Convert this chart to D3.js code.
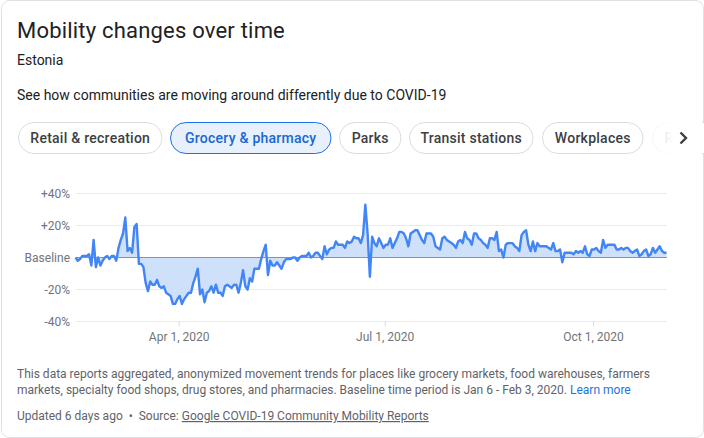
<!DOCTYPE html>
<html>
<head>
<meta charset="utf-8">
<script src="https://d3js.org/d3.v7.min.js"></script>
<style>
  html, body { margin: 0; padding: 0; background: #fff; }
  svg { display: block; font-family: Roboto, sans-serif; }
  .grid line { stroke: #ebebeb; stroke-width: 1; }
  .axis text { font-size: 12px; fill: #70757a; font-family: Roboto, sans-serif; }
  .axis path { display: none; }
</style>
</head>
<body>
<div id="chart"></div>
<script>
// the last chip is scrolled out of view in the card, only its first letter shows
var categories = ['Retail & recreation', 'Grocery & pharmacy', 'Parks', 'Transit stations', 'Workplaces', 'R'];
var selectedCategory = 'Grocery & pharmacy';
var yTicks = [40, 20, 0, -20, -40];
var xTicks = ['2020-04-01', '2020-07-01', '2020-10-01'];
var firstDay = '2020-02-15';
var lastDay = '2020-11-02';

// daily change from baseline in %
var values = [
  0, -2, -1, 1, 1, 1, 2, -5, 11, -6,
  0, -5, -2, 0, 1, -1, 1, 1, -2, 6,
  11, 15, 25, 4, 6, 3, 19, 21, -4, -4,
  -6, -16, -21, -15, -17, -17, -14, -18, -19, -18,
  -22, -23, -24, -29, -29, -26, -24, -29, -26, -24,
  -22, -22, -16, -12, -7, -23, -20, -28, -22, -21,
  -18, -22, -17, -22, -22, -24, -18, -17, -18, -19,
  -17, -17, -22, -16, -8, -18, -20, -13, -15, -7,
  -7, -7, -1, 4, 8, -11, -2, -5, -5, -3,
  -5, -7, -3, -1, -1, -1, 0, 0, -2, 0,
  1, 1, 1, 3, 0, 1, 3, 3, 1, -1,
  7, 2, 5, 6, 6, 10, 8, 8, 8, 6,
  10, 9, 10, 13, 12, 12, 9, 14, 33, 15,
  -12, 13, 9, 7, 12, 9, 6, 8, 8, 12,
  6, 9, 12, 16, 16, 15, 12, 7, 15, 16,
  17, 17, 14, 11, 9, 15, 15, 15, 13, 7,
  6, 5, 12, 13, 11, 10, 9, 8, 6, 10,
  11, 9, 16, 12, 11, 8, 15, 15, 12, 11,
  9, 8, 6, 12, 12, 11, 16, 4, 5, 0,
  8, 9, 9, 9, 7, 6, 4, 14, 16, 17,
  8, 4, 10, 4, 9, 7, 7, 7, 7, 6,
  5, 9, 4, 4, 5, -3, 3, 3, 3, 3,
  2, 4, 3, 4, 3, 7, 2, 1, 5, 5,
  6, 4, 3, 11, 6, 8, 8, 8, 8, 5,
  5, 6, 5, 6, 6, 4, 3, 4, 5, 1,
  2, 4, 5, 1, 2, 6, 3, 5, 7, 4,
  3, 3
];

var width = 704, height = 438;
var parseDay = d3.utcParse('%Y-%m-%d');
var start = parseDay(firstDay);
var days = values.map(function (v, i) { return d3.utcDay.offset(start, i); });

var x = d3.scaleUtc().domain([start, parseDay(lastDay)]).range([75.5, 666.5]);
var y = d3.scaleLinear().domain([-40, 40]).range([321.5, 193.5]);

var svg = d3.select('#chart').append('svg')
  .attr('width', width)
  .attr('height', height);

// card outline
svg.append('rect')
  .attr('x', 1.5).attr('y', 0.5)
  .attr('width', 702).attr('height', 437)
  .attr('rx', 8)
  .attr('fill', '#fff')
  .attr('stroke', '#e0e1e3');

svg.append('text').attr('x', 17).attr('y', 38)
  .attr('font-size', 22).attr('letter-spacing', 0.2).attr('fill', '#202124')
  .text('Mobility changes over time');
svg.append('text').attr('x', 17).attr('y', 65)
  .attr('font-size', 14).attr('fill', '#202124')
  .text('Estonia');
svg.append('text').attr('x', 17).attr('y', 100)
  .attr('font-size', 14).attr('fill', '#202124')
  .text('See how communities are moving around differently due to COVID-19');

// chips
var chipEdges = [[18.5, 162], [170.5, 331], [339.5, 401], [409.5, 533], [542.5, 643], [652.5, 720]];
var chips = svg.selectAll('.chip').data(categories).enter().append('g').attr('class', 'chip');
chips.append('rect')
  .attr('x', function (d, i) { return chipEdges[i][0]; })
  .attr('y', 122.5)
  .attr('width', function (d, i) { return chipEdges[i][1] - chipEdges[i][0]; })
  .attr('height', 31)
  .attr('rx', 15.5)
  .attr('fill', function (d) { return d === selectedCategory ? '#e8f0fe' : '#fff'; })
  .attr('stroke', function (d) { return d === selectedCategory ? '#1a73e8' : '#dadce0'; });
chips.append('text')
  .attr('x', function (d, i) { return i < 5 ? (chipEdges[i][0] + chipEdges[i][1]) / 2 : chipEdges[i][0] + 12; })
  .attr('y', 143)
  .attr('text-anchor', function (d, i) { return i < 5 ? 'middle' : 'start'; })
  .attr('font-size', 14).attr('font-weight', 500).attr('letter-spacing', 0.25)
  .attr('fill', function (d) { return d === selectedCategory ? '#1967d2' : '#3c4043'; })
  .text(function (d) { return d; });

// fade over the clipped chip, then the arrow
var defs = svg.append('defs');
var fade = defs.append('linearGradient').attr('id', 'fade');
fade.append('stop').attr('offset', '0').attr('stop-color', '#fff').attr('stop-opacity', 0.7);
fade.append('stop').attr('offset', '0.45').attr('stop-color', '#fff').attr('stop-opacity', 1);
svg.append('rect').attr('x', 650).attr('y', 118).attr('width', 52).attr('height', 40).attr('fill', 'url(#fade)');
svg.append('path')
  .attr('d', 'M680.5 132.5 L686 138 L680.5 143.5')
  .attr('fill', 'none').attr('stroke', '#3c4043').attr('stroke-width', 2.4);

// grid
var grid = svg.append('g').attr('class', 'grid');
grid.selectAll('line').data(yTicks).enter().append('line')
  .attr('x1', 76).attr('x2', 667)
  .attr('y1', function (d) { return y(d); })
  .attr('y2', function (d) { return y(d); });

// area and line
var area = d3.area()
  .x(function (d, i) { return x(days[i]); })
  .y0(y(0))
  .y1(function (d) { return y(d); });
var line = d3.line()
  .x(function (d, i) { return x(days[i]); })
  .y(function (d) { return y(d); });

svg.append('path').datum(values)
  .attr('d', area)
  .attr('fill', '#cfe0fb');

svg.append('line')
  .attr('x1', 76).attr('x2', 667)
  .attr('y1', y(0)).attr('y2', y(0))
  .attr('stroke', '#8e9297').attr('stroke-width', 1.2);

svg.append('path').datum(values)
  .attr('d', line)
  .attr('fill', 'none')
  .attr('stroke', '#4285f4')
  .attr('stroke-width', 2.4)
  .attr('stroke-linejoin', 'round');

// axes
var yAxis = d3.axisLeft(y)
  .tickValues(yTicks)
  .tickSize(0)
  .tickPadding(6)
  .tickFormat(function (d) { return d === 0 ? 'Baseline' : (d > 0 ? '+' : '-') + Math.abs(d) + '%'; });
svg.append('g').attr('class', 'axis')
  .attr('transform', 'translate(76,0)')
  .call(yAxis);

var xAxis = d3.axisBottom(x)
  .tickValues(xTicks.map(parseDay))
  .tickSize(5)
  .tickPadding(6)
  .tickFormat(d3.utcFormat('%b %-d, %Y'));
var xg = svg.append('g').attr('class', 'axis')
  .attr('transform', 'translate(-1,321.5)')
  .call(xAxis);
xg.selectAll('line').attr('stroke', '#dadce0');

// footer
var notes = [
  'This data reports aggregated, anonymized movement trends for places like grocery markets, food warehouses, farmers',
  'markets, specialty food shops, drug stores, and pharmacies. Baseline time period is Jan 6 - Feb 3, 2020. '
];
var noteText = svg.append('g').attr('font-size', 12).attr('fill', '#5f6368');
noteText.append('text').attr('x', 17).attr('y', 378).text(notes[0]);
var second = noteText.append('text').attr('x', 17).attr('y', 394).text(notes[1]);
second.append('tspan').attr('fill', '#1a73e8').text('Learn more');

var updated = svg.append('text').attr('x', 17).attr('y', 420)
  .attr('font-size', 12).attr('fill', '#5f6368');
updated.append('tspan').text('Updated 6 days ago  \u00a0\u2022\u00a0  Source: ');
updated.append('tspan').attr('text-decoration', 'underline').text('Google COVID-19 Community Mobility Reports');
</script>
</body>
</html>
